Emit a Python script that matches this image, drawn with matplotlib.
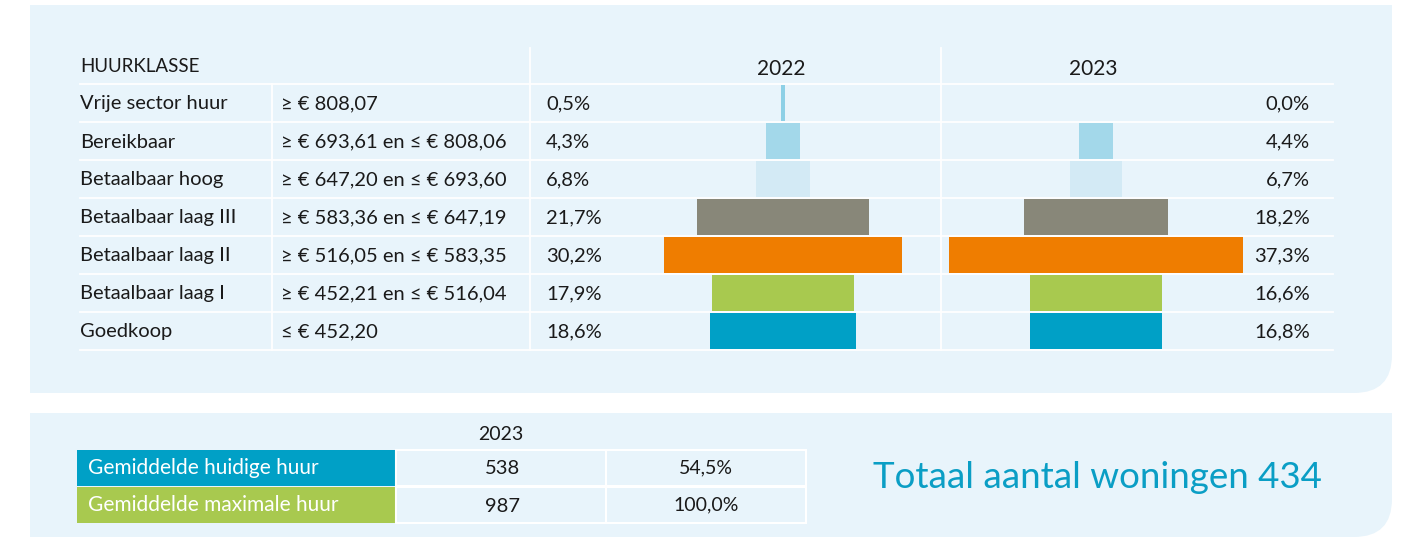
import matplotlib.pyplot as plt
from matplotlib.patches import Rectangle, FancyBboxPatch
import numpy as np

# ---- data ----
klassen = ['Vrije sector huur', 'Bereikbaar', 'Betaalbaar hoog', 'Betaalbaar laag III',
           'Betaalbaar laag II', 'Betaalbaar laag I', 'Goedkoop']
grenzen = ['≥ € 808,07', '≥ € 693,61 en ≤ € 808,06', '≥ € 647,20 en ≤ € 693,60',
           '≥ € 583,36 en ≤ € 647,19', '≥ € 516,05 en ≤ € 583,35',
           '≥ € 452,21 en ≤ € 516,04', '≤ € 452,20']
pct_2022 = [0.5, 4.3, 6.8, 21.7, 30.2, 17.9, 18.6]
pct_2023 = [0.0, 4.4, 6.7, 18.2, 37.3, 16.6, 16.8]
kleuren = ['#8DD0E6', '#A3D8EA', '#D3EAF5', '#888779', '#EF7D00', '#A8C94F', '#00A0C6']

huur_labels = ['Gemiddelde huidige huur', 'Gemiddelde maximale huur']
huur_waarden = [538, 987]
huur_pct = [54.5, 100.0]
huur_kleuren = ['#00A0C6', '#A8C94F']
totaal_woningen = 434

FONT = ['Lato', 'DejaVu Sans']
TXT = '#1a1a1a'
PANEL = '#E8F4FB'
W, H = 1405, 538
FS = 14.5


def fmt(v):
    return f'{v:.1f}'.replace('.', ',') + '%'


def panel(ax, x0, y0, x1, y1, r):
    # only the bottom-right corner is rounded
    ax.add_patch(FancyBboxPatch((x0, y0), x1 - x0, y1 - y0,
                                boxstyle=f'round,pad=0,rounding_size={r}',
                                fc=PANEL, ec='none'))
    ax.add_patch(Rectangle((x0, y0), x1 - x0 - r, y1 - y0, fc=PANEL, ec='none'))
    ax.add_patch(Rectangle((x0, y0), x1 - x0, y1 - y0 - r, fc=PANEL, ec='none'))


fig = plt.figure(figsize=(W / 100, H / 100), dpi=100)
fig.patch.set_facecolor('white')
ax = fig.add_axes([0, 0, 1, 1])
ax.set_xlim(0, W)
ax.set_ylim(H, 0)
ax.axis('off')

panel(ax, 30, 5, 1392, 393, 38)
panel(ax, 30, 413, 1392, 537, 38)

# ---- top table grid ----
row_top = 84
row_h = 38
n = len(klassen)
for i in range(n + 1):
    ax.plot([80, 1333], [row_top + i * row_h] * 2, color='white', lw=1.3, zorder=2)
ax.plot([272, 272], [row_top, row_top + n * row_h], color='white', lw=1.3, zorder=2)
ax.plot([530, 530], [48, row_top + n * row_h], color='white', lw=1.3, zorder=2)
ax.plot([941, 941], [48, row_top + n * row_h], color='white', lw=1.3, zorder=2)

ax.text(80, 67, 'HUURKLASSE', fontsize=13.5, color=TXT, family=FONT, va='center')
ax.text(781, 69, '2022', fontsize=15, color=TXT, family=FONT, va='center', ha='center')
ax.text(1093, 69, '2023', fontsize=15, color=TXT, family=FONT, va='center', ha='center')

for i in range(n):
    yc = row_top + (i + 0.5) * row_h + 1
    ax.text(80, yc, klassen[i], fontsize=FS, color=TXT, family=FONT, va='center')
    ax.text(281, yc, grenzen[i], fontsize=FS, color=TXT, family=FONT, va='center')
    ax.text(546, yc, fmt(pct_2022[i]), fontsize=FS, color=TXT, family=FONT, va='center')
    ax.text(1310, yc, fmt(pct_2023[i]), fontsize=FS, color=TXT, family=FONT,
            va='center', ha='right')

# ---- bar axes (centered bars) ----
scale = 7.9  # px per percent
y_bot = row_top + n * row_h


def bar_axes(x0, x1, xc, values):
    bx = fig.add_axes([x0 / W, 1 - y_bot / H, (x1 - x0) / W, (y_bot - row_top) / H])
    bx.set_xlim(-(xc - x0) / scale, (x1 - xc) / scale)
    bx.set_ylim(n - 0.5, -0.5)
    bx.axis('off')
    bx.patch.set_alpha(0)
    vals = np.array(values)
    bx.barh(np.arange(n), vals, left=-vals / 2, height=0.94, color=kleuren, zorder=3)
    return bx


bar_axes(531, 941, 783, pct_2022)
bar_axes(942, 1333, 1096, pct_2023)

# ---- bottom table ----
ax.text(501, 435, '2023', fontsize=14, color=TXT, family=FONT, va='center', ha='center')
cell_y = [450, 487]
cell_h = 36
for i in range(2):
    y0 = cell_y[i]
    ax.add_patch(Rectangle((77, y0), 319, cell_h, fc=huur_kleuren[i], ec='none'))
    ax.add_patch(Rectangle((396, y0), 210, cell_h, fc=PANEL, ec='white', lw=1.5))
    ax.add_patch(Rectangle((606, y0), 200, cell_h, fc=PANEL, ec='white', lw=1.5))
    ax.text(88, y0 + cell_h / 2, huur_labels[i], fontsize=15, color='white',
            family=FONT, va='center')
    ax.text(503, y0 + cell_h / 2 + 1, str(huur_waarden[i]), fontsize=14.5, color=TXT,
            family=FONT, va='center', ha='center')
    ax.text(706, y0 + cell_h / 2, fmt(huur_pct[i]), fontsize=14, color=TXT,
            family=FONT, va='center', ha='center')

ax.text(873, 478, f'Totaal aantal woningen {totaal_woningen}', fontsize=26.5,
        color='#0A9EC5', family=FONT, va='center')

fig.savefig('out.png', dpi=100, facecolor='white')
